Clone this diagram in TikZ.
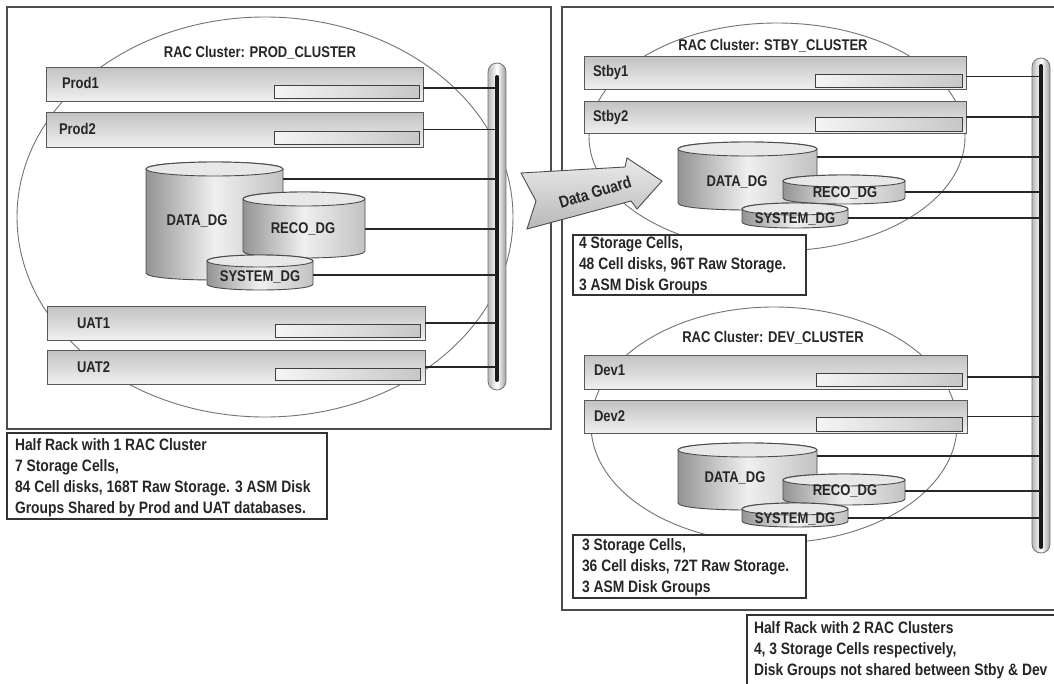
\documentclass[tikz,border=0pt]{standalone}
\usepackage{fontspec}
\newfontfamily\dfont{Liberation Sans Bold}[FakeStretch=0.84]
\newcommand\dgcyl[5]{% x1 x2 top bottom ry
  \pgfmathsetmacro\cyx{(#1+#2)/2}%
  \pgfmathsetmacro\cyr{(#2-#1)/2}%
  \pgfmathsetmacro\cyt{#3+#5}%
  \pgfmathsetmacro\cyb{#4-#5}%
  \pgfmathsetmacro\cyc{#4+#5/3}%
  \pgfmathsetmacro\cyu{#3-#5/3}%
  \path[cylbody] (#1,\cyt) -- (#1,\cyb) .. controls (#1,\cyc) and (#2,\cyc) .. (#2,\cyb) -- (#2,\cyt) .. controls (#2,\cyu) and (#1,\cyu) .. (#1,\cyt) -- cycle;
  \path[cyltop] (\cyx,\cyt) ellipse[x radius=\cyr, y radius=#5];
}
\begin{document}
\begin{tikzpicture}[x=1pt,y=-1pt,
  every node/.style={font=\dfont\fontsize{15.5}{21}\selectfont, inner sep=0pt, outer sep=0pt, text=black!85},
  frame/.style={draw=black!70, line width=1.1pt},
  clus/.style={draw=black!55, line width=0.9pt},
  server/.style={draw=black!65, line width=1pt, top color=black!24, bottom color=black!6, anchor=north west},
  slot/.style={draw=black!75, line width=0.9pt, left color=black!4, right color=black!22, anchor=north west},
  wire/.style={draw=black!85, line width=1.3pt},
  infobox/.style={draw=black!80, line width=1.3pt, fill=white, anchor=north west},
  infotext/.style={anchor=north west, align=left, font=\dfont\fontsize{16.5}{21}\selectfont},
  lbl/.style={anchor=west},
  cylbody/.style={draw=black!70, line width=0.9pt, left color=black!42, right color=black!24, middle color=black!6},
  cyltop/.style={draw=black!70, line width=0.9pt, fill=black!9},
  railbar/.style={draw=black!55, line width=0.8pt, rounded corners=9pt, left color=black!28, right color=black!38, middle color=white, anchor=north west},
  railcore/.style={line width=4pt, black!90, line cap=round},
]
\useasboundingbox (0,0) rectangle (1054,683);
\clip (0,0) rectangle (1054,683);
\fill[white] (0,0) rectangle (1054,683);

% frames
\draw[frame] (7,7) rectangle (551,429);
\draw[frame] (562,7) rectangle (1070,610);

% cluster ellipses
\draw[clus] (265,217) ellipse[x radius=248, y radius=200];
\draw[clus] (777,137) ellipse[x radius=188, y radius=114];
\draw[clus] (774,425) ellipse[x radius=183, y radius=118];

% titles
\node (ptitle) at (260,53) {RAC Cluster: PROD\_CLUSTER};
\node (stitle) at (773,46) {RAC Cluster: STBY\_CLUSTER};
\node (dtitle) at (773,338) {RAC Cluster: DEV\_CLUSTER};

% bars
\node[railbar, minimum width=18pt, minimum height=327pt] (barL) at (488,63) {};
\draw[railcore] ([yshift=-14pt]barL.north) -- ([yshift=10pt]barL.south);
\node[railbar, minimum width=18pt, minimum height=495pt] (barR) at (1032,58) {};
\draw[railcore] ([yshift=-8pt]barR.north) -- ([yshift=6pt]barR.south);

% ---------- left cluster servers
\node[server, minimum width=377pt, minimum height=34pt] (prod1) at (46,67) {};
\node[slot, minimum width=145pt, minimum height=13pt] (prod1s) at (274,85) {};
\node[lbl] (prod1l) at (62,83) {Prod1};
\node[server, minimum width=377pt, minimum height=35pt] (prod2) at (46,112) {};
\node[slot, minimum width=145pt, minimum height=13pt] (prod2s) at (274,131) {};
\node[lbl] (prod2l) at (59,129) {Prod2};
\node[server, minimum width=378pt, minimum height=34pt] (uat1) at (47,306) {};
\node[slot, minimum width=145pt, minimum height=13pt] (uat1s) at (275,324) {};
\node[lbl] (uat1l) at (77,323) {UAT1};
\node[server, minimum width=378pt, minimum height=34pt] (uat2) at (47,350) {};
\node[slot, minimum width=145pt, minimum height=12pt] (uat2s) at (275,368) {};
\node[lbl] (uat2l) at (77,367) {UAT2};

% left disk groups
\dgcyl{146}{283}{162}{280}{7}
\dgcyl{243}{365}{192}{258}{7}
\dgcyl{207}{313}{255}{290}{6}
\node (pdatal) at (197,221) {DATA\_DG};
\node (precol) at (303,229) {RECO\_DG};
\node (psysl) at (260,277) {SYSTEM\_DG};
\coordinate (pdata) at (283,179);
\coordinate (preco) at (365,229);
\coordinate (psys) at (313,275);

% left wires
\coordinate (cp1) at ([yshift=-4pt]prod1.east);
\draw[wire] (cp1) -- (cp1 -| barL.center);
\draw[wire] (prod2.east) -- (prod2.east -| barL.center);
\draw[wire] (pdata) -- (pdata -| barL.center);
\draw[wire] (preco) -- (preco -| barL.center);
\draw[wire] (psys) -- (psys -| barL.center);
\draw[wire] (uat1.east) -- (uat1.east -| barL.center);
\draw[wire] (uat2.east) -- (uat2.east -| barL.center);

% ---------- stby cluster
\node[server, minimum width=382pt, minimum height=33pt] (stby1) at (584,56) {};
\node[slot, minimum width=147pt, minimum height=13pt] (stby1s) at (815,74) {};
\node[lbl] (stby1l) at (593,72) {Stby1};
\node[server, minimum width=382pt, minimum height=32pt] (stby2) at (584,101) {};
\node[slot, minimum width=147pt, minimum height=14pt] (stby2s) at (815,117) {};
\node[lbl] (stby2l) at (593,117) {Stby2};

\dgcyl{678}{817}{142}{210}{7}
\dgcyl{783}{905}{175}{204}{6}
\dgcyl{742}{848}{203}{228}{6}
\node (sdatal) at (737,182) {DATA\_DG};
\node (srecol) at (845,193) {RECO\_DG};
\node (ssysl) at (795,219) {SYSTEM\_DG};
\coordinate (sdata) at (817,157);
\coordinate (sreco) at (905,192);
\coordinate (ssys) at (848,218);

\coordinate (cs1) at ([yshift=-4pt]stby1.east);
\draw[wire] (cs1) -- (cs1 -| barR.center);
\draw[wire] (stby2.east) -- (stby2.east -| barR.center);
\draw[wire] (sdata) -- (sdata -| barR.center);
\draw[wire] (sreco) -- (sreco -| barR.center);
\draw[wire] (ssys) -- (ssys -| barR.center);

% ---------- dev cluster
\node[server, minimum width=383pt, minimum height=34pt] (dev1) at (584,355) {};
\node[slot, minimum width=146pt, minimum height=13pt] (dev1s) at (816,373) {};
\node[lbl] (dev1l) at (594,370) {Dev1};
\node[server, minimum width=383pt, minimum height=33pt] (dev2) at (584,400) {};
\node[slot, minimum width=146pt, minimum height=14pt] (dev2s) at (816,417) {};
\node[lbl] (dev2l) at (594,416) {Dev2};

\dgcyl{678}{817}{443}{510}{7}
\dgcyl{783}{905}{474}{505}{6}
\dgcyl{742}{848}{503}{527}{6}
\node (ddatal) at (735,478) {DATA\_DG};
\node (drecol) at (845,491) {RECO\_DG};
\node (dsysl) at (795,519) {SYSTEM\_DG};
\coordinate (ddata) at (817,456);
\coordinate (dreco) at (905,491);
\coordinate (dsys) at (848,518);

\coordinate (cd1) at ([yshift=-5pt]dev1.east);
\draw[wire] (cd1) -- (cd1 -| barR.center);
\draw[wire] (dev2.east) -- (dev2.east -| barR.center);
\draw[wire] (ddata) -- (ddata -| barR.center);
\draw[wire] (dreco) -- (dreco -| barR.center);
\draw[wire] (dsys) -- (dsys -| barR.center);

% ---------- info boxes
\node[infobox, minimum width=320pt, minimum height=86pt] (linfo) at (7,433) {};
\node[infotext] (linfot) at (15,439) {Half Rack with 1 RAC Cluster\\7 Storage Cells,\\84 Cell disks, 168T Raw Storage. 3 ASM Disk\\Groups Shared by Prod and UAT databases.};
\node[infobox, minimum width=233pt, minimum height=60pt] (sinfo) at (573,235) {};
\node[infotext] (sinfot) at (579,237) {4 Storage Cells,\\48 Cell disks, 96T Raw Storage.\\3 ASM Disk Groups};
\node[infobox, minimum width=233pt, minimum height=63pt] (dinfo) at (573,535) {};
\node[infotext] (dinfot) at (582,539) {3 Storage Cells,\\36 Cell disks, 72T Raw Storage.\\3 ASM Disk Groups};
\node[infobox, minimum width=330pt, minimum height=90pt] (rinfo) at (747,615) {};
\node[infotext] (rinfot) at (754,622) {Half Rack with 2 RAC Clusters\\4, 3 Storage Cells respectively,\\Disk Groups not shared between Stby \& Dev};

% ---------- Data Guard arrow
\path[draw=black!70, line width=0.9pt, top color=black!8, bottom color=black!28]
  (521,173) -- (625,167) -- (627,158) -- (662,181) -- (637,209) -- (631,201) -- (527,229) -- (536,201) -- cycle;
\node[rotate=17, font=\dfont\fontsize{16.5}{20}\selectfont] (dg) at (595,192) {Data Guard};
\end{tikzpicture}
\end{document}
